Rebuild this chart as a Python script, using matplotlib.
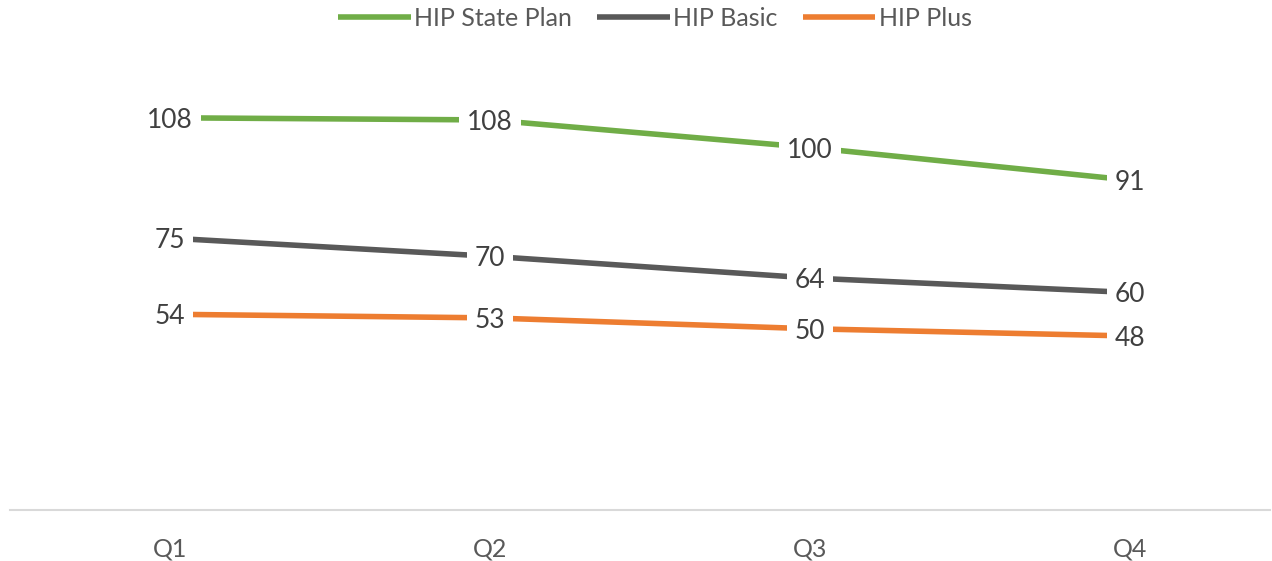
import matplotlib

matplotlib.use("Agg")
import matplotlib.pyplot as plt

quarters = ["Q1", "Q2", "Q3", "Q4"]
state_plan = [108.2, 107.6, 100, 91]
basic = [75, 70, 64, 60]
plus = [54, 53, 50, 48]

series = [
    ("HIP State Plan", state_plan, "#70AD47"),
    ("HIP Basic", basic, "#595959"),
    ("HIP Plus", plus, "#ED7D31"),
]

plt.rcParams["font.family"] = ["Lato", "DejaVu Sans"]

fig = plt.figure(figsize=(12.72, 5.61), dpi=100)
ax = fig.add_axes([10 / 1272, 1 - 510 / 561, 1260 / 1272, 435 / 561])

x = list(range(len(quarters)))
for name, vals, color in series:
    ax.plot(x, vals, color=color, lw=4, label=name, solid_capstyle="butt", zorder=2)
    for xi, v in zip(x, vals):
        ax.text(xi, v, f"{v:.0f}", ha="center", va="center_baseline", fontsize=19,
                color="#404040", zorder=3,
                bbox=dict(boxstyle="square,pad=0.3", fc="white", ec="none"))

ax.set_xlim(-0.5, 3.4375)
ax.set_ylim(0, 120)
ax.set_yticks([])
ax.set_xticks(x)
ax.set_xticklabels(quarters, fontsize=18, color="#595959")
ax.tick_params(axis="x", length=0, pad=20)
for side in ("top", "right", "left"):
    ax.spines[side].set_visible(False)
ax.spines["bottom"].set_color("#D9D9D9")
ax.spines["bottom"].set_linewidth(1.5)

fig.legend(loc="center", bbox_to_anchor=(655 / 1272, 1 - 18 / 561), ncol=3, frameon=False,
           fontsize=18, labelcolor="#595959", handlelength=2.9, handletextpad=0.15,
           columnspacing=1.0)

fig.savefig("out.png", dpi=100)
